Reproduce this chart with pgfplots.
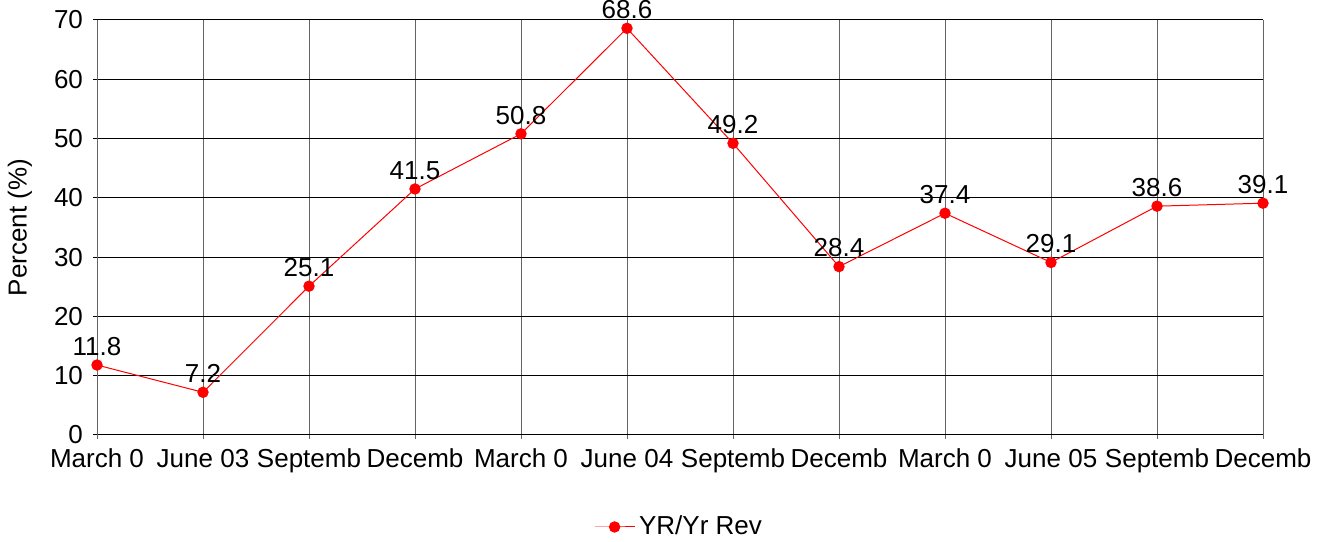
\documentclass[border=0pt]{standalone}
\usepackage{fontspec}
\setmainfont{Liberation Sans}
\usepackage{pgfplots}
\pgfplotsset{compat=1.18}
\definecolor{vgrid}{RGB}{100,100,100}
\begin{document}
\fontsize{13}{15.5}\selectfont
\begin{tikzpicture}
\begin{axis}[
  name=ax,
  scale only axis,
  width=583pt, height=207.5pt,
  xmin=0, xmax=11, ymin=0, ymax=70,
  clip=false,
  axis x line*=bottom, axis y line*=left,
  x axis line style={black, line width=0.5pt, -},
  y axis line style={vgrid, line width=0.5pt, -},
  xtick={0,...,11},
  xticklabels={March 0,June 03,Septemb,Decemb,March 0,June 04,Septemb,Decemb,March 0,June 05,Septemb,Decemb},
  ytick={0,10,...,70},
  tick align=outside,
  major tick length=2pt,
  xtick style={vgrid, line width=0.5pt},
  ytick style={black, line width=0.5pt},
  xmajorgrids, ymajorgrids,
  x grid style={vgrid, line width=0.5pt},
  y grid style={black, line width=0.5pt},
  /pgf/number format/assume math mode=true,
  xticklabel style={yshift=-0.5pt},
  yticklabel style={xshift=-0.5pt},
  ylabel={Percent (\%)},
  every axis y label/.style={at={(axis description cs:0,0.5)}, xshift=-38.5pt, rotate=90, anchor=center},
  legend style={at={(0.5,-0.2217)}, anchor=center, draw=none, fill=none},
  legend image code/.code={\draw[mark repeat=2,mark phase=2] plot coordinates {(-3pt,0pt)(7pt,0pt)(17pt,0pt)};},
  nodes near coords,
  every node near coord/.append style={anchor=south, inner sep=0pt, yshift=4.5pt, black},
]
\addplot[red, line width=0.5pt, mark=*, mark size=2.6pt, mark options={fill=red, draw=red}]
coordinates {(0,11.8)(1,7.2)(2,25.1)(3,41.5)(4,50.8)(5,68.6)(6,49.2)(7,28.4)(8,37.4)(9,29.1)(10,38.6)(11,39.1)};
\addlegendentry{YR/Yr Rev}
\end{axis}
\pgfresetboundingbox
\useasboundingbox ([xshift=-48.5pt,yshift=-53.5pt]ax.south west) rectangle ([xshift=30pt,yshift=10pt]ax.north east);
\end{tikzpicture}
\end{document}
